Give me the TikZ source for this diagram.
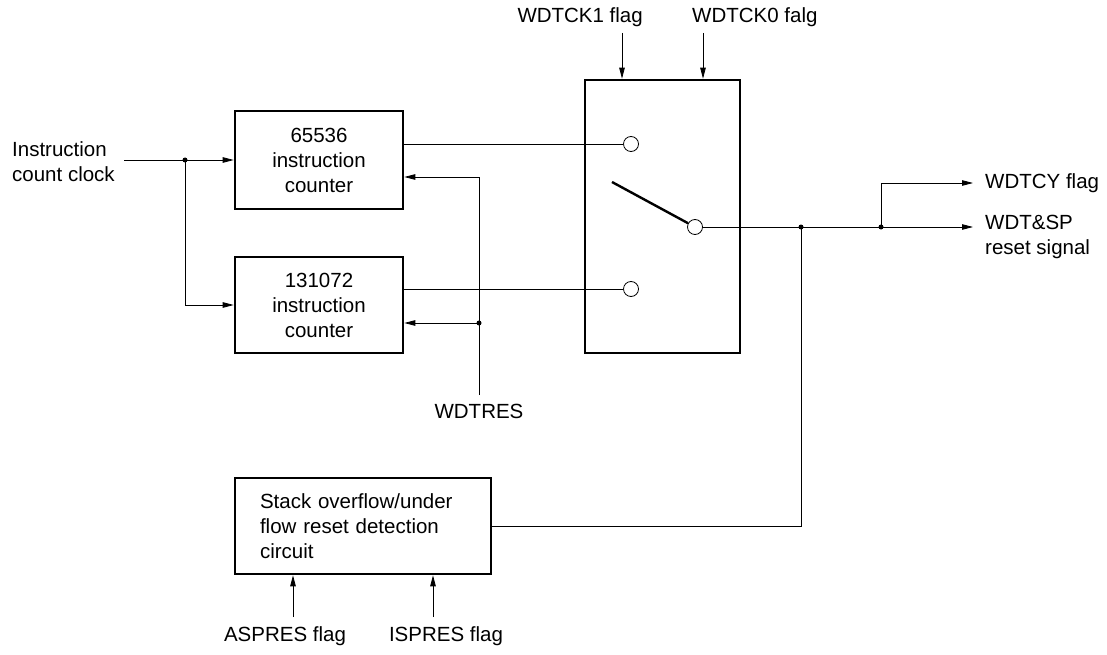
\documentclass[tikz,border=0pt]{standalone}
\usepackage{fontspec}
\setmainfont{Liberation Sans}
\usetikzlibrary{positioning,arrows.meta}

\begin{document}
\begin{tikzpicture}[
  x=1pt, y=-1pt,
  font=\fontsize{20.5}{25}\selectfont,
  caja/.style={draw, rectangle, line width=2.6pt, align=center, inner sep=0pt},
  contacto/.style={draw, circle, line width=0.8pt, fill=white, minimum size=15pt, inner sep=0pt},
  flecha/.style={-{Triangle[length=11pt, width=5.5pt]}, line width=0.8pt},
  linea/.style={line width=0.8pt},
  punto/.style={circle, fill, inner sep=0pt, minimum size=5pt},
  etiqueta/.style={inner sep=0pt}
]
\useasboundingbox (0,0) rectangle (1107,655);

% Contadores
\node[caja, minimum width=168pt, minimum height=98pt] (cnt1) at (319,160) {65536\\instruction\\counter};
\node[caja, minimum width=168pt, minimum height=96pt] (cnt2) at (319,305) {131072\\instruction\\counter};
\node[caja, minimum width=256pt, minimum height=96pt, text width=206pt, align=left] (stack) at (363,526) {Stack overflow/under\\flow reset detection\\circuit};

% Selector
\node[caja, minimum width=155pt, minimum height=273pt] (sel) at (662.5,216.5) {};
\node[contacto] (c1) at (631,144) {};
\node[contacto] (c2) at (695,227) {};
\node[contacto] (c3) at (631,289) {};
\coordinate (palanca) at (612,182);
\draw[line width=2.4pt] (palanca) -- (c2);

% Entrada
\node[etiqueta, anchor=west, align=left] (clk) at (12,162) {Instruction\\count clock};
\coordinate (entrada) at (124,160);
\node[punto] (jin) at (185,160) {};
\draw[flecha] (entrada) -- (cnt1.west);
\draw[flecha] (jin.center) |- (cnt2.west);
\draw[linea] (cnt1.east |- c1) -- (c1.west);
\draw[linea] (cnt2.east |- c3) -- (c3.west);

% WDTRES
\node[etiqueta] (wdtres) at (479,411) {WDTRES};
\coordinate (rbot) at (479,395);
\coordinate (rtop) at (479,177);
\node[punto] (jres) at (479,323) {};
\draw[flecha] (rbot) -- (rtop) -- (cnt1.east |- rtop);
\draw[flecha] (jres.center) -- (cnt2.east |- jres);

% Banderas de arriba
\node[etiqueta, anchor=east] (ck1) at (643,17) {WDTCK1 flag};
\node[etiqueta, anchor=west] (ck0) at (692,17) {WDTCK0 falg};
\coordinate (f1) at (622,33);
\coordinate (f0) at (703,33);
\draw[flecha] (f1) -- (f1 |- sel.north);
\draw[flecha] (f0) -- (f0 |- sel.north);

% Salidas
\node[punto] (j1) at (801,227) {};
\node[punto] (j2) at (881,227) {};
\coordinate (sal) at (973,227);
\coordinate (salcy) at (973,183);
\node[etiqueta, anchor=west] (cy) at (985,183) {WDTCY flag};
\node[etiqueta, anchor=north west, align=left] (rst) at (985,215) {WDT\&SP\\reset signal};
\draw[flecha] (c2.east) -- (sal);
\draw[flecha] (j2.center) |- (salcy);
\draw[linea] (j1.center) |- (stack.east);

% Banderas de abajo
\node[etiqueta] (asp) at (285,636) {ASPRES flag};
\node[etiqueta] (isp) at (446,636) {ISPRES flag};
\coordinate (a0) at (293,617);
\coordinate (i0) at (433,617);
\draw[flecha] (a0) -- (a0 |- stack.south);
\draw[flecha] (i0) -- (i0 |- stack.south);
\end{tikzpicture}
\end{document}
